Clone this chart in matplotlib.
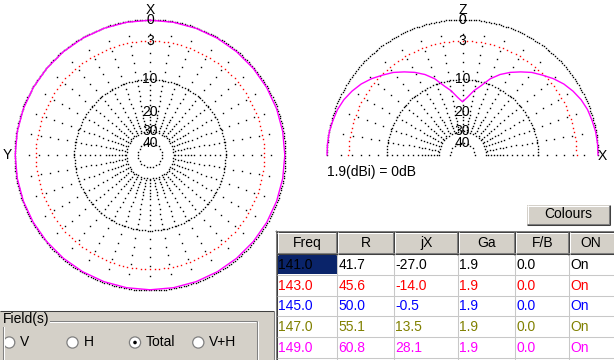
#!/usr/bin/env python3
import matplotlib.pyplot as plt
import numpy as np
from matplotlib.patches import Circle, Rectangle

plt.rcParams["font.family"] = ["Liberation Sans", "DejaVu Sans"]
plt.rcParams["font.size"] = 10

W, H = 614, 360

# frequency sweep table
COLUMNS = ["Freq", "R", "jX", "Ga", "F/B", "ON"]
FREQ = [141.0, 143.0, 145.0, 147.0, 149.0]
RES = [41.7, 45.6, 50.0, 55.1, 60.8]
REACT = [-27.0, -14.0, -0.5, 13.5, 28.1]
GAIN = [1.9, 1.9, 1.9, 1.9, 1.9]
FB = [0.0, 0.0, 0.0, 0.0, 0.0]
STATE = ["On", "On", "On", "On", "On"]
ROW_COLORS = ["#000000", "#ff0000", "#0000ff", "#808000", "#ff00ff"]

# radial scale of the pattern plots: dB below max -> fraction of outer radius
SCALE_DB = [0, 3, 10, 20, 30, 40]
SCALE_R = [1.0, 0.842, 0.558, 0.318, 0.174, 0.089]
RING_DB = [0, 10, 30, 40]
LABEL_DB = [0, 3, 10, 20, 30, 40]

# horizontal (azimuth) pattern, dB below max, every 10 deg from +X
AZ_DEG = np.arange(0, 361, 10)
AZ_DB = [0.1, 0.1, 0.1, 0.1, 0.1, 0.1, 0.1, 0.1, 0.1, 0.1, 0.1, 0.1, 0.1,
         0.1, 0.1, 0.1, 0.1, 0.1, 0.1, 0.1, 0.1, 0.1, 0.1, 0.1, 0.1, 0.1,
         0.1, 0.1, 0.1, 0.1, 0.1, 0.1, 0.1, 0.1, 0.1, 0.1, 0.1]

# vertical (elevation) pattern, dB below max, every 5 deg from +X horizon
EL_DEG = np.arange(0, 181, 5)
EL_DB = [0.0, 0.0, 0.05, 0.2, 0.35, 0.65, 1.1, 1.65, 2.35, 3.2, 4.15, 5.3,
         6.4, 7.6, 9.0, 11.2, 13.2, 15.4, 16.9, 15.4, 13.2, 11.2, 9.0, 7.6,
         6.4, 5.3, 4.15, 3.2, 2.35, 1.65, 1.1, 0.65, 0.35, 0.2, 0.05, 0.0, 0.0]

R_PX = 135.5
GRAY = "#d4d0c8"


def db_to_r(db):
    return np.interp(db, SCALE_DB, SCALE_R)


def polar_axes(fig, cx, cy):
    ax = fig.add_axes([(cx - R_PX) / W, 1 - (cy + R_PX) / H, 2 * R_PX / W, 2 * R_PX / H],
                      projection="polar")
    ax.set_ylim(0, 1)
    ax.set_facecolor("none")
    ax.grid(False)
    ax.set_xticks([])
    ax.set_yticks([])
    ax.spines["polar"].set_visible(False)
    return ax


def dots(ax, th, r, color):
    ax.plot(th, r, ls="none", marker="s", ms=1.0, mew=0, color=color, clip_on=False)


def draw_grid(ax, t0, t1, spokes):
    for db in RING_DB:
        r = db_to_r(db)
        step = 2.5 if db == 0 else 3.0
        n = max(int(abs(t1 - t0) * r * R_PX / step), 2)
        th = np.linspace(t0, t1, n)
        dots(ax, th, np.full(n, r), "black")
    r3 = db_to_r(3)
    n = int(abs(t1 - t0) * r3 * R_PX / 4.5)
    th = np.linspace(t0, t1, n)
    dots(ax, th, np.full(n, r3), "red")
    rs = db_to_r(np.arange(2, 30.1, 1.6))
    for a in spokes:
        dots(ax, np.full(len(rs), np.radians(a)), rs, "black")


def draw_labels(ax, top):
    for db in LABEL_DB:
        ax.text(top, db_to_r(db), f"{db}", ha="center", va="center", clip_on=False)


def line(ax, xs, ys, color, lw=0.75):
    ax.plot(xs, ys, color=color, lw=lw, solid_capstyle="butt")


def draw_ui(ax):
    # bottom-left panel with the field selector
    ax.add_patch(Rectangle((0, 310.5), 274, 50, fc=GRAY, ec="none"))
    line(ax, [0, 274], [310.5, 310.5], "#404040")
    line(ax, [273.5, 273.5], [310.5, 360], "#808080")
    line(ax, [2.5, 257], [320.5, 320.5], "#808080")
    line(ax, [3.5, 256], [321.5, 321.5], "white")
    line(ax, [2.5, 2.5], [320.5, 360], "#808080")
    line(ax, [3.5, 3.5], [321.5, 360], "white")
    line(ax, [256.5, 256.5], [320.5, 360], "#808080")
    line(ax, [257.5, 257.5], [320.5, 360], "white")
    ax.text(3, 319.5, "Field(s)", ha="left", va="center",
            bbox=dict(fc=GRAY, ec="none", pad=0.5))
    for cx, label in [(9.2, "V"), (72.5, "H"), (135, "Total"), (198.3, "V+H")]:
        ax.add_patch(Circle((cx, 342.5), 5.6, fc="white", ec="#808080", lw=0.9))
        ax.text(cx + 11, 342.5, label, ha="left", va="center")
    ax.add_patch(Circle((135, 342.5), 1.8, fc="black", ec="none"))

    # Colours button
    ax.add_patch(Rectangle((527, 205), 82, 19.5, fc=GRAY, ec="none"))
    line(ax, [527, 609], [205.5, 205.5], "white")
    line(ax, [527.5, 527.5], [205, 224.5], "white")
    line(ax, [527, 609], [223.5, 223.5], "#808080")
    line(ax, [608.5, 608.5], [205, 224.5], "#808080")
    line(ax, [527, 610], [224.5, 224.5], "#404040")
    line(ax, [609.5, 609.5], [205, 225], "#404040")
    ax.text(568, 214.5, "Colours", ha="center", va="center")

    # sweep table
    col_x = [277, 337.5, 394.5, 458.5, 515.5, 569.5, 640]
    head_top, head_bot = 232, 254.5
    row_h = 20.8
    ax.add_patch(Rectangle((275, 230), 340, 130, fc="white", ec="none"))
    line(ax, [275, 614], [230.5, 230.5], "#808080")
    line(ax, [275.5, 275.5], [230, 360], "#808080")
    line(ax, [276, 614], [231.5, 231.5], "#404040")
    line(ax, [276.5, 276.5], [231, 360], "#404040")
    for i, name in enumerate(COLUMNS):
        x0, x1 = col_x[i], col_x[i + 1]
        ax.add_patch(Rectangle((x0, head_top), x1 - x0, head_bot - head_top, fc=GRAY, ec="none"))
        line(ax, [x0, x1], [head_top + 0.5, head_top + 0.5], "white")
        line(ax, [x0 + 0.5, x0 + 0.5], [head_top, head_bot], "white")
        line(ax, [x1 - 1.5, x1 - 1.5], [head_top, head_bot], "#808080")
        line(ax, [x1 - 0.5, x1 - 0.5], [head_top, head_bot], "#404040")
        line(ax, [x0, x1], [head_bot - 1.5, head_bot - 1.5], "#808080")
        line(ax, [x0, x1], [head_bot - 0.5, head_bot - 0.5], "#404040")
        ax.text((x0 + min(x1, 614)) / 2 if i < 5 else 591, (head_top + head_bot) / 2, name,
                ha="center", va="center")
    rows = list(zip(FREQ, RES, REACT, GAIN, FB, STATE))
    ax.add_patch(Rectangle((col_x[0], head_bot), col_x[1] - col_x[0] - 1, row_h - 1,
                           fc="#0a246a", ec="none"))
    for j, row in enumerate(rows):
        y0 = head_bot + j * row_h
        line(ax, [col_x[0], 614], [y0 + row_h - 0.5, y0 + row_h - 0.5], "#c8c8c8")
        for i, val in enumerate(row):
            txt = val if isinstance(val, str) else f"{val:.1f}"
            ax.text(col_x[i] + 1, y0 + row_h / 2, txt, ha="left", va="center",
                    color=ROW_COLORS[j])
    for x in col_x[1:6]:
        line(ax, [x - 0.5, x - 0.5], [head_bot, 360], "#c8c8c8")

    ax.text(327, 172, "1.9(dBi) = 0dB", ha="left", va="center")


def main():
    fig = plt.figure(figsize=(W / 100, H / 100), dpi=100)
    fig.patch.set_facecolor("white")

    ui = fig.add_axes([0, 0, 1, 1])
    ui.set_xlim(0, W)
    ui.set_ylim(H, 0)
    ui.axis("off")
    draw_ui(ui)

    # horizontal pattern: X up, Y left
    az = polar_axes(fig, 150, 155)
    az.set_theta_zero_location("N")
    draw_grid(az, 0, 2 * np.pi, range(0, 360, 10))
    az.plot(np.radians(AZ_DEG), db_to_r(AZ_DB), color="#ff00ff", lw=1.0, clip_on=False)
    draw_labels(az, 0)
    az.text(0, 1.07, "X", ha="center", va="center", clip_on=False)
    az.text(np.pi / 2, 1.055, "Y", ha="center", va="center", clip_on=False)

    # vertical pattern: X right, Z up
    el = polar_axes(fig, 462.5, 155)
    draw_grid(el, 0, np.pi, range(0, 181, 10))
    el.plot(np.radians(EL_DEG), db_to_r(EL_DB), color="#ff00ff", lw=1.0, clip_on=False)
    draw_labels(el, np.pi / 2)
    el.text(np.pi / 2, 1.07, "Z", ha="center", va="center", clip_on=False)
    el.text(-0.005, 1.03, "X", ha="center", va="center", clip_on=False)

    fig.savefig("out.png", dpi=100)
    plt.close(fig)


if __name__ == "__main__":
    main()
